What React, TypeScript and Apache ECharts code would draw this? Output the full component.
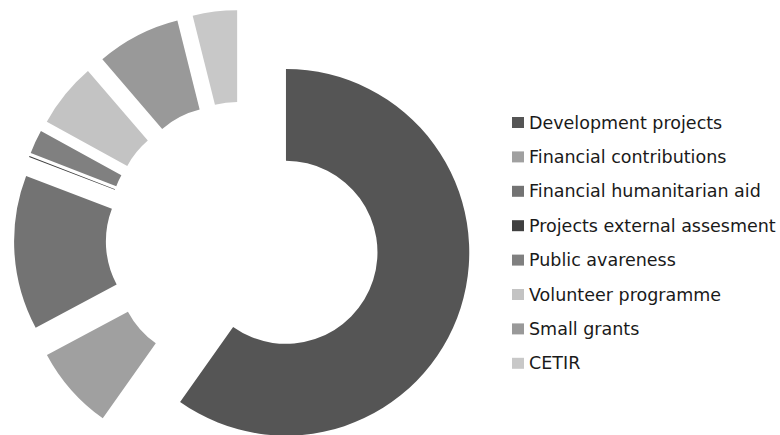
import React, { useEffect, useRef } from "react";
import * as echarts from "echarts";

const categories = [
  "Development projects",
  "Financial contributions",
  "Financial humanitarian aid",
  "Projects external assesment",
  "Public avareness",
  "Volunteer programme",
  "Small grants",
  "CETIR",
];
const values = [59.8, 7.4, 13.6, 0.1, 2.1, 5.7, 7.4, 3.9];
const colors = ["#555555", "#a0a0a0", "#737373", "#404040", "#808080", "#c3c3c3", "#999999", "#c8c8c8"];

export default function App() {
  const ref = useRef<HTMLDivElement>(null);
  useEffect(() => {
    if (!ref.current) return;
    const chart = echarts.init(ref.current, undefined, { renderer: "svg" });
    chart.setOption({
      animation: false,
      backgroundColor: "#ffffff",
      legend: {
        orient: "vertical",
        left: 512,
        top: 113.5,
        padding: 0,
        itemWidth: 12,
        itemHeight: 11,
        itemGap: 16.4,
        icon: "rect",
        selectedMode: false,
        textStyle: { fontFamily: "DejaVu Sans", fontSize: 17.5, color: "#1a1a1a" },
        data: categories,
      },
      series: [
        {
          type: "pie",
          center: [242.7, 238.6],
          radius: [91.5, 183.3],
          startAngle: 90,
          clockwise: true,
          selectedMode: "multiple",
          selectedOffset: 45.4,
          label: { show: false },
          labelLine: { show: false },
          emphasis: { disabled: true },
          itemStyle: { borderWidth: 0 },
          data: categories.map((name, i) => ({
            name,
            value: values[i],
            selected: true,
            itemStyle: { color: colors[i] },
          })),
        },
      ],
    });
    return () => chart.dispose();
  }, []);
  return <div ref={ref} style={{ position: "fixed", left: 0, top: 0, width: 780, height: 435 }} />;
}
